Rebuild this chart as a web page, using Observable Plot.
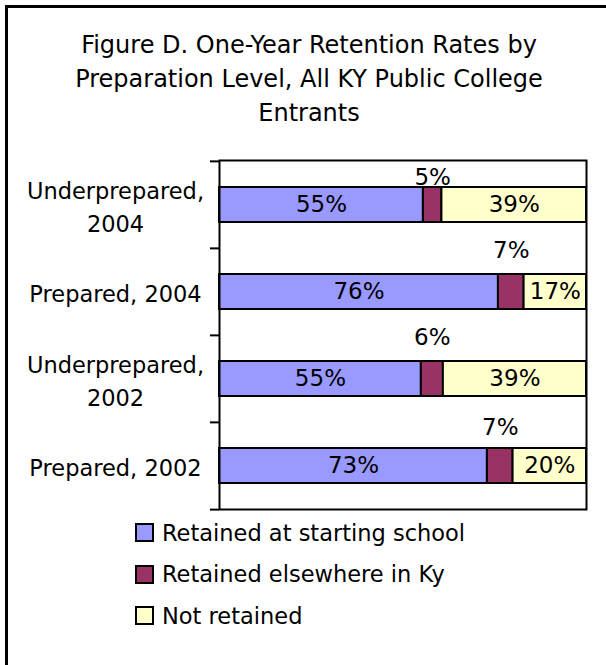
<!DOCTYPE html>
<html><head><meta charset="utf-8">
<script src="https://cdn.jsdelivr.net/npm/d3@7"></script>
<script src="https://cdn.jsdelivr.net/npm/@observablehq/plot@0.6"></script>
<style>
html,body{margin:0;padding:0;background:#fff;overflow:hidden;}
body{font-family:"DejaVu Sans",sans-serif;color:#000;width:606px;height:665px;position:relative;}
#border{position:absolute;left:5px;top:5px;width:800px;height:800px;border-top:3px solid #000;border-left:3px solid #000;}
#title{position:absolute;left:0;top:28px;width:618px;text-align:center;font-size:24px;line-height:34px;}
#chart{position:absolute;left:0;top:0;}
#legend{position:absolute;left:135px;top:512px;font-size:22.5px;}
.row{height:41.5px;display:flex;align-items:center;}
.sw{width:15px;height:15px;border:2px solid #000;margin-right:8px;box-sizing:content-box;}
</style></head>
<body>
<div id="border"></div>
<div id="title">Figure D. One-Year Retention Rates by<br>Preparation Level, All KY Public College<br>Entrants</div>
<div id="chart"></div>
<div id="legend"></div>
<script>
const categories = ["Underprepared,\n2004", "Prepared, 2004", "Underprepared,\n2002", "Prepared, 2002"];
const seriesNames = ["Retained at starting school", "Retained elsewhere in Ky", "Not retained"];
const retainedStart = [55, 76, 55, 73];
const retainedElsewhere = [5, 7, 6, 7];
const notRetained = [39, 17, 39, 20];
const colors = ["#9999FF", "#993366", "#FFFFCC"];
// vertical lift (px) of the small "elsewhere" labels above their bars
const elsewhereLabelLift = [27, 41, 41, 38];

const rows = [];
[retainedStart, retainedElsewhere, notRetained].forEach((vals, s) =>
  vals.forEach((v, i) => rows.push({cat: categories[i], series: seriesNames[s], value: v, i})));

const W = 606, H = 520, mT = 160, mB = 11, mL = 219, mR = 20;
const pI = 0.6, pO = 0.3;
const step = (H - mT - mB) / (categories.length - pI + 2 * pO);
const stackOpts = {x: "value", y: "cat", z: "series", offset: "normalize"};

const chart = Plot.plot({
  width: W, height: H,
  marginTop: mT, marginBottom: mB, marginLeft: mL, marginRight: mR,
  style: {fontFamily: "DejaVu Sans, sans-serif", color: "#000", background: "transparent"},
  x: {domain: [0, 1], axis: null},
  y: {domain: categories, paddingInner: pI, paddingOuter: pO, axis: null},
  color: {domain: seriesNames, range: colors},
  marks: [
    Plot.barX(rows, Plot.stackX({...stackOpts, fill: "series", stroke: "#000", strokeWidth: 2})),
    Plot.text(rows, Plot.stackX({...stackOpts,
      text: d => d.series === seriesNames[1] ? null : d.value + "%",
      fontSize: 23, fill: "#000"})),
    ...categories.map((c, k) => Plot.text(rows, Plot.stackX({...stackOpts,
      text: d => (d.series === seriesNames[1] && d.i === k) ? d.value + "%" : null,
      fontSize: 23, fill: "#000", dy: -elsewhereLabelLift[k]}))),
    Plot.frame({stroke: "#000", strokeWidth: 2}),
    Plot.ruleY(categories, {y: d => d, x1: 0, x2: 0, insetLeft: -9, dy: -step / 2, stroke: "#000", strokeWidth: 2}),
    Plot.ruleY(categories.slice(-1), {y: d => d, x1: 0, x2: 0, insetLeft: -9, dy: step / 2, stroke: "#000", strokeWidth: 2}),
    // category labels, each line centred like the original
    Plot.text(categories, {y: d => d, text: d => d, frameAnchor: "left", textAnchor: "middle",
      dx: -104, fontSize: 22.5, lineHeight: 1.45, fill: "#000"})
  ]
});
document.getElementById("chart").appendChild(chart);

const legend = document.getElementById("legend");
seriesNames.forEach((name, s) => {
  const row = document.createElement("div");
  row.className = "row";
  const sw = document.createElement("span");
  sw.className = "sw";
  sw.style.background = colors[s];
  const t = document.createElement("span");
  t.textContent = name;
  row.appendChild(sw); row.appendChild(t);
  legend.appendChild(row);
});
</script>
</body></html>
